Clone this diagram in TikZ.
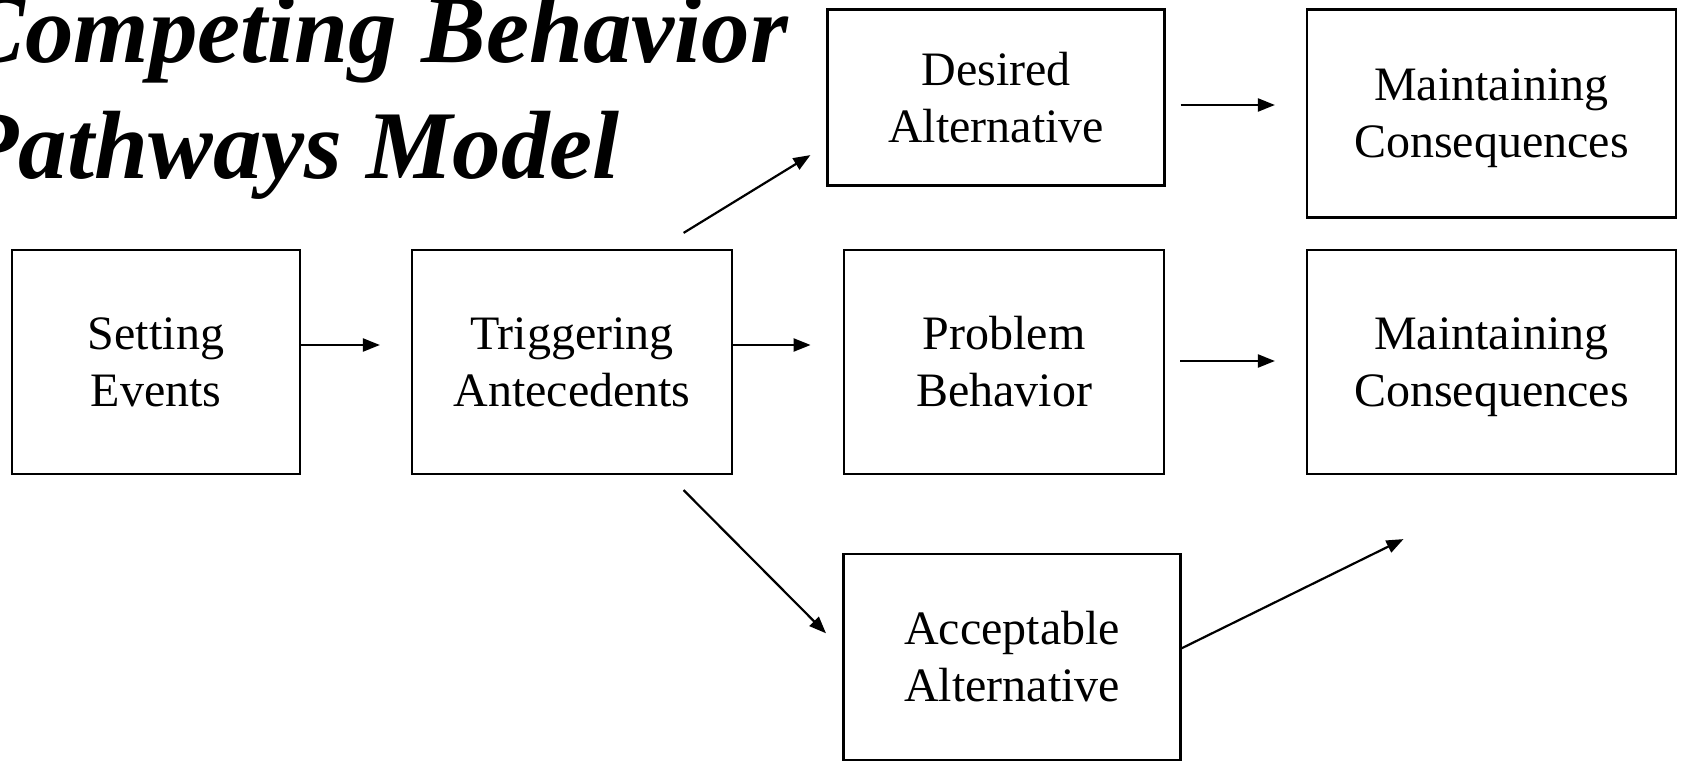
\documentclass[tikz,border=0pt]{standalone}
\usepackage{fontspec}
\setmainfont{Liberation Serif}
\usetikzlibrary{arrows.meta}
\tikzset{
  box/.style={draw, line width=2.2pt, rectangle, inner sep=0pt, align=center,
    font=\fontsize{48}{57}\selectfont},
  arr/.style={line width=2.2pt, -{Triangle[length=17pt,width=13pt]}},
  title/.style={inner sep=0pt, font=\fontsize{97}{116}\selectfont\bfseries\itshape}
}
\begin{document}
\begin{tikzpicture}[x=1pt,y=-1pt]
\useasboundingbox (0,0) rectangle (1681,762);
% title
\node[title, anchor=base east] (t1) at (788,63) {Competing Behavior};
\node[title, anchor=base east] (t2) at (620,179) {Pathways Model};
% boxes
\node[box, minimum width=288pt, minimum height=224pt] (se) at (156,362) {Setting\\Events};
\node[box, minimum width=320pt, minimum height=224pt] (ta) at (572,362) {Triggering\\Antecedents};
\node[box, minimum width=337pt, minimum height=176pt] (da) at (996,97.5) {Desired\\Alternative};
\node[box, minimum width=320.6pt, minimum height=224pt] (pb) at (1004,362) {Problem\\Behavior};
\node[box, minimum width=337pt, minimum height=206pt] (aa) at (1012,657) {Acceptable\\Alternative};
\node[box, minimum width=369pt, minimum height=208pt] (mc1) at (1491.5,113.5) {Maintaining\\\smash{Consequences}};
\node[box, minimum width=369pt, minimum height=224pt] (mc2) at (1491.5,362) {Maintaining\\\smash{Consequences}};
% arrows
\draw[arr] ([yshift=17pt]se.east) -- ([yshift=17pt,xshift=-31pt]ta.west);
\draw[arr] ([yshift=17pt]ta.east) -- ([yshift=17pt,xshift=-32pt]pb.west);
\draw[arr] ([xshift=-49.5pt,yshift=16pt]ta.north east) -- ([xshift=-16pt,yshift=31.5pt]da.south west);
\draw[arr] ([xshift=-49.5pt,yshift=-15pt]ta.south east) -- ([xshift=-16.4pt,yshift=23.7pt]aa.west);
\draw[arr] ([xshift=15pt,yshift=-7.5pt]da.east) -- ([xshift=-31pt,yshift=8.5pt]mc1.west);
\draw[arr] ([xshift=15pt,yshift=1pt]pb.east) -- ([xshift=-31pt,yshift=1pt]mc2.west);
\draw[arr] ([yshift=8.7pt]aa.east) -- ([xshift=-88pt,yshift=-64pt]mc2.south);
\end{tikzpicture}
\end{document}
